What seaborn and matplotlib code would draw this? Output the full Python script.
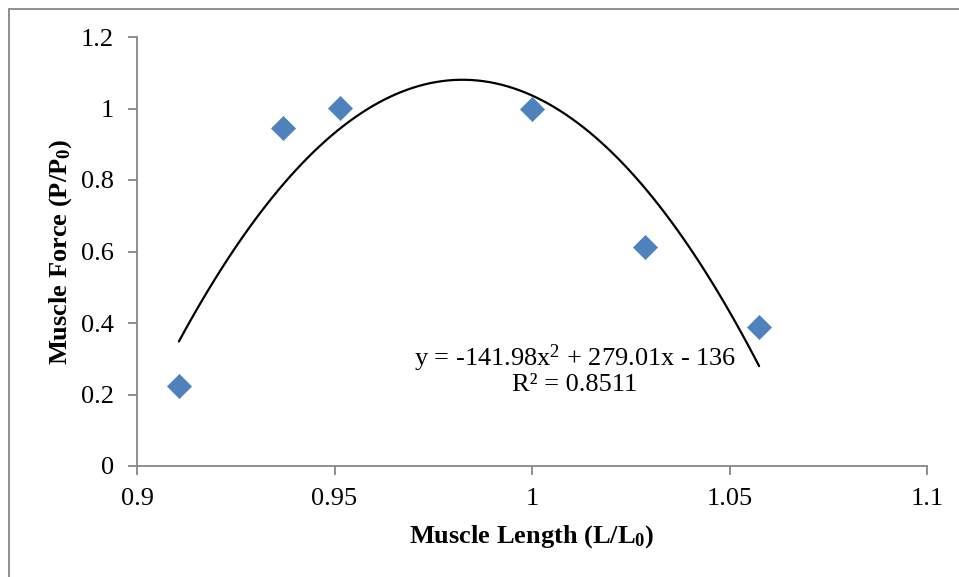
import numpy as np
import pandas as pd
import matplotlib
matplotlib.use("Agg")
import matplotlib.pyplot as plt
import seaborn as sns
from matplotlib.patches import Rectangle

# Data
muscle_length = [0.9106, 0.9370, 0.9514, 1.0000, 1.0286, 1.0575]
muscle_force = [0.224, 0.946, 1.001, 1.000, 0.612, 0.390]
x_ticks = [0.9, 0.95, 1.0, 1.05, 1.1]
x_tick_labels = ["0.9", "0.95", "1", "1.05", "1.1"]
y_ticks = [0, 0.2, 0.4, 0.6, 0.8, 1.0, 1.2]
y_tick_labels = ["0", "0.2", "0.4", "0.6", "0.8", "1", "1.2"]
equation_lines = ["y = -141.98x$^{2}$ + 279.01x - 136", "R² = 0.8511"]
x_label = "Muscle Length (L/L$_{0}$)"
y_label = "Muscle Force (P/P$_{0}$)"

df = pd.DataFrame({"length": muscle_length, "force": muscle_force})

sns.set_theme(style="white")
plt.rcParams["font.family"] = ["Liberation Serif", "DejaVu Serif"]
plt.rcParams["mathtext.fontset"] = "custom"
plt.rcParams["mathtext.rm"] = "Liberation Serif"
plt.rcParams["mathtext.default"] = "regular"
plt.rcParams["text.color"] = "black"
plt.rcParams["axes.labelcolor"] = "black"

fig = plt.figure(figsize=(9.59, 5.77), dpi=100)
ax = fig.add_axes([137/959, 1-466/577, (927-137)/959, (466-37)/577])

# outer chart border (only left/top visible in the reference crop)
fig.patches.append(Rectangle((9/959, -0.05), 1.2, 1-9/577+0.05, transform=fig.transFigure,
                             fill=False, edgecolor="#868686", linewidth=1.3))

sns.regplot(data=df, x="length", y="force", order=2, ci=None, scatter=False,
            truncate=True, ax=ax, line_kws=dict(color="black", linewidth=1.6))
sns.scatterplot(data=df, x="length", y="force", marker="D", s=150,
                color="#4F81BD", edgecolor="#4F81BD", linewidth=0.5, ax=ax, zorder=3)

ax.set_xlim(0.9, 1.1)
ax.set_ylim(0, 1.2)
ax.set_xticks(x_ticks)
ax.set_xticklabels(x_tick_labels)
ax.set_yticks(y_ticks)
ax.set_yticklabels(y_tick_labels)

for s in ["top", "right"]:
    ax.spines[s].set_visible(False)
for s in ["left", "bottom"]:
    ax.spines[s].set_color("#868686")
    ax.spines[s].set_linewidth(1.3)

ax.tick_params(axis="both", which="major", direction="out", length=6.5, width=1.3,
               color="#868686", labelsize=19, labelcolor="black",
               bottom=True, left=True, top=False, right=False)
ax.tick_params(axis="y", pad=10)
ax.tick_params(axis="x", pad=9)

ax.set_xlabel(x_label, fontsize=19, fontweight="bold", labelpad=10)
ax.set_ylabel(y_label, fontsize=19, fontweight="bold", labelpad=5)

ax.text(1.0109, 0.272, "\n".join(equation_lines), ha="center", va="center",
        fontsize=19, linespacing=1.0, color="black")

fig.savefig("out.png", dpi=100)
